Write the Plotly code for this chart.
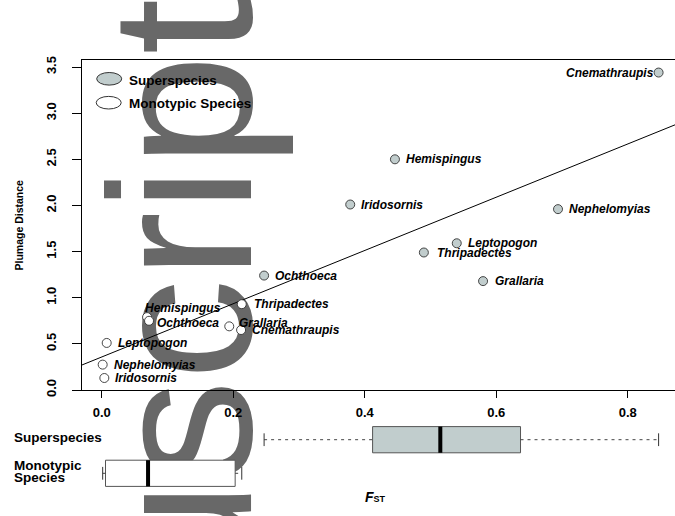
import numpy as np
import plotly.graph_objects as go

# ---------------- data ----------------
species = ["Cnemathraupis", "Hemispingus", "Iridosornis", "Nephelomyias",
           "Leptopogon", "Thripadectes", "Grallaria", "Ochthoeca"]
super_fst = [0.847, 0.446, 0.378, 0.694, 0.540, 0.490, 0.580, 0.247]
super_pd = [3.44, 2.50, 2.01, 1.96, 1.59, 1.49, 1.18, 1.24]
mono_fst = [0.212, 0.069, 0.004, 0.0015, 0.0076, 0.213, 0.194, 0.072]
mono_pd = [0.65, 0.79, 0.13, 0.275, 0.51, 0.93, 0.69, 0.75]

x_ticks = [0.0, 0.2, 0.4, 0.6, 0.8]
x_ticklabels = ["0.0", "0.2", "0.4", "0.6", "0.8"]
y_ticks = [0.0, 0.5, 1.0, 1.5, 2.0, 2.5, 3.0, 3.5]
y_ticklabels = ["0.0", "0.5", "1.0", "1.5", "2.0", "2.5", "3.0", "3.5"]
group_names = ["Superspecies", "Monotypic Species"]

# ---------------- styling / placement ----------------
FONT = "Liberation Sans, Arial, Helvetica, sans-serif"
AZURE3 = "#c1cdcd"
W, H = 675, 516
ML, MR, MT, MB = 82, 0, 60, 20
PW, PH = W - ML - MR, H - MT - MB
XL, XR = -0.02996, 0.87194
YTOP = 3.576

# label placement (pixel offsets relative to the point): (anchor, dx, dy_down)
super_lab = [("right", -4.5, 0), ("left", 11, 0), ("left", 11, 0), ("left", 10.7, 0),
             ("left", 11.6, 0), ("left", 13, 0), ("left", 12.4, 0), ("left", 10.7, 0)]
mono_lab = [("left", 10.6, 0), ("left", -2.3, -8.7), ("left", 10.7, 0), ("left", 11.3, 0),
            ("left", 11.6, 0), ("left", 12.6, 0), ("left", 9.7, -3), ("left", 8.4, 2.6)]


def px2paper(px, py):
    return (px - ML) / PW, (H - MB - py) / PH


def fivenum(v):
    v = np.sort(np.asarray(v, dtype=float))
    n = len(v)
    lo = v[: (n + 1) // 2]
    hi = v[n // 2:]
    return v[0], np.median(lo), np.median(v), np.median(hi), v[-1]


fig = go.Figure()

# regression line over all points
all_x = np.array(super_fst + mono_fst)
all_y = np.array(super_pd + mono_pd)
slope, intercept = np.polyfit(all_x, all_y, 1)
fig.add_trace(go.Scatter(x=[XL, XR], y=[intercept + slope * XL, intercept + slope * XR],
                         mode="lines", line=dict(color="black", width=1),
                         hoverinfo="skip", xaxis="x", yaxis="y"))

# points
fig.add_trace(go.Scatter(x=super_fst, y=super_pd, mode="markers", name=group_names[0],
                         marker=dict(size=9, color=AZURE3, line=dict(color="#333", width=0.9)),
                         text=species, xaxis="x", yaxis="y"))
fig.add_trace(go.Scatter(x=mono_fst, y=mono_pd, mode="markers", name=group_names[1],
                         marker=dict(size=9, color="white", line=dict(color="#333", width=0.9)),
                         text=species, xaxis="x", yaxis="y"))

annotations = []
for xs, ys, labs in ((super_fst, super_pd, super_lab), (mono_fst, mono_pd, mono_lab)):
    for name, xv, yv, (anc, dx, dy) in zip(species, xs, ys, labs):
        annotations.append(dict(x=xv, y=yv, xref="x", yref="y", text=name, showarrow=False,
                                xanchor=anc, yanchor="middle", xshift=dx, yshift=-dy,
                                borderpad=0, borderwidth=0,
                                font=dict(family=FONT, size=12, color="black",
                                          weight="bold", style="italic")))

# ---------------- box plots (bottom panel) ----------------
stats = [fivenum(super_fst), fivenum(mono_fst)]
rows = [2, 1]
fills = [AZURE3, "white"]
fig.add_trace(go.Bar(orientation="h", y=rows, base=[s[1] for s in stats],
                     x=[s[3] - s[1] for s in stats], width=0.78,
                     marker=dict(color=fills, line=dict(color="#555", width=1)),
                     xaxis="x2", yaxis="y2", hoverinfo="skip"))
wx, wy, cx, cy, mx, my = [], [], [], [], [], []
for s, r in zip(stats, rows):
    wx += [s[0], s[1], None, s[3], s[4], None]
    wy += [r, r, None, r, r, None]
    cx += [s[0], s[0], None, s[4], s[4], None]
    cy += [r - 0.19, r + 0.19, None, r - 0.19, r + 0.19, None]
    mx += [s[2], s[2], None]
    my += [r - 0.39, r + 0.39, None]
fig.add_trace(go.Scatter(x=wx, y=wy, mode="lines", line=dict(color="#444", width=1, dash="3px,4px"),
                         xaxis="x2", yaxis="y2", hoverinfo="skip"))
fig.add_trace(go.Scatter(x=cx, y=cy, mode="lines", line=dict(color="#333", width=1),
                         xaxis="x2", yaxis="y2", hoverinfo="skip"))
fig.add_trace(go.Scatter(x=mx, y=my, mode="lines", line=dict(color="black", width=4),
                         xaxis="x2", yaxis="y2", hoverinfo="skip"))

# ---------------- legend (drawn manually) ----------------
shapes = []
for (cxp, cyp), fill in (((109.2, 78.8), AZURE3), ((108.7, 102.7), "white")):
    x0, y0 = px2paper(cxp - 12.5, cyp + 6.3)
    x1, y1 = px2paper(cxp + 12.5, cyp - 6.3)
    shapes.append(dict(type="circle", xref="paper", yref="paper", x0=x0, y0=y0, x1=x1, y1=y1,
                       fillcolor=fill, line=dict(color="#333", width=1), layer="above"))
for txt, py in ((group_names[0], 80.5), (group_names[1], 103.3)):
    xp, yp = px2paper(128, py)
    annotations.append(dict(x=xp, y=yp, xref="paper", yref="paper", text=txt, showarrow=False,
                            xanchor="left", yanchor="middle", borderpad=0,
                            font=dict(family=FONT, size=13.5, color="black", weight="bold")))

# watermark (behind the plot)
wcx, wcy = px2paper(162, 492.4)
shapes.append(dict(type="rect", xref="paper", yref="paper", x0=wcx - 0.01, x1=wcx + 0.01,
                   y0=wcy - 0.01, y1=wcy + 0.01, line=dict(width=0), fillcolor="rgba(0,0,0,0)",
                   layer="below",
                   label=dict(text="Manuscript", textangle=-90, textposition="middle center",
                              font=dict(family=FONT, size=202, color="#686868"))))

# axis titles and row labels
def add_text(txt, px, py, size, anchor="left", angle=0, style="normal"):
    xp, yp = px2paper(px, py)
    annotations.append(dict(x=xp, y=yp, xref="paper", yref="paper", text=txt, showarrow=False,
                            xanchor=anchor, yanchor="middle", textangle=angle, borderpad=0,
                            font=dict(family=FONT, size=size, color="black", weight="bold",
                                      style=style)))

add_text("Plumage Distance", 18.5, 225, 10.5, anchor="center", angle=-90)
add_text(group_names[0], 13, 437.5, 13.5)
add_text("Monotypic", 13, 465, 13.5)
add_text("Species", 13, 477, 13.5)
add_text("<i>F</i><span style='font-size:9px'>ST</span>", 375, 497, 14, anchor="center")

fig.update_layout(
    width=W, height=H, margin=dict(l=ML, r=MR, t=MT, b=MB, pad=0),
    paper_bgcolor="white", plot_bgcolor="rgba(0,0,0,0)", showlegend=False,
    barmode="overlay", font=dict(family=FONT, color="black"),
    shapes=shapes, annotations=annotations,
    xaxis=dict(domain=[0, 1], range=[XL, XR], anchor="y", showline=True, linecolor="black",
               linewidth=1, mirror=True, ticks="outside", ticklen=7, tickwidth=1,
               tickcolor="black", tickvals=x_ticks, ticktext=x_ticklabels,
               tickfont=dict(family=FONT, size=13, weight="bold"), showgrid=False,
               zeroline=False, automargin=False, ticklabelstandoff=3),
    yaxis=dict(domain=[(H - MB - 390) / PH, 1], range=[0, YTOP], anchor="x", showline=True,
               linecolor="black", linewidth=1, ticks="outside", ticklen=9, tickwidth=1,
               tickcolor="black", tickvals=y_ticks, ticktext=y_ticklabels, tickangle=-90,
               tickfont=dict(family=FONT, size=13, weight="bold"), showgrid=False,
               zeroline=False, automargin=False, ticklabelstandoff=11),
    xaxis2=dict(domain=[0, 1], range=[XL, XR], anchor="y2", visible=False),
    yaxis2=dict(domain=[(H - MB - 490.1) / PH, (H - MB - 422.9) / PH], range=[0.5, 2.5],
                anchor="x2", visible=False),
)

fig.write_html("out.html", config={"displayModeBar": False},
               post_script="document.body.style.margin='0';document.body.style.overflow='hidden';")
